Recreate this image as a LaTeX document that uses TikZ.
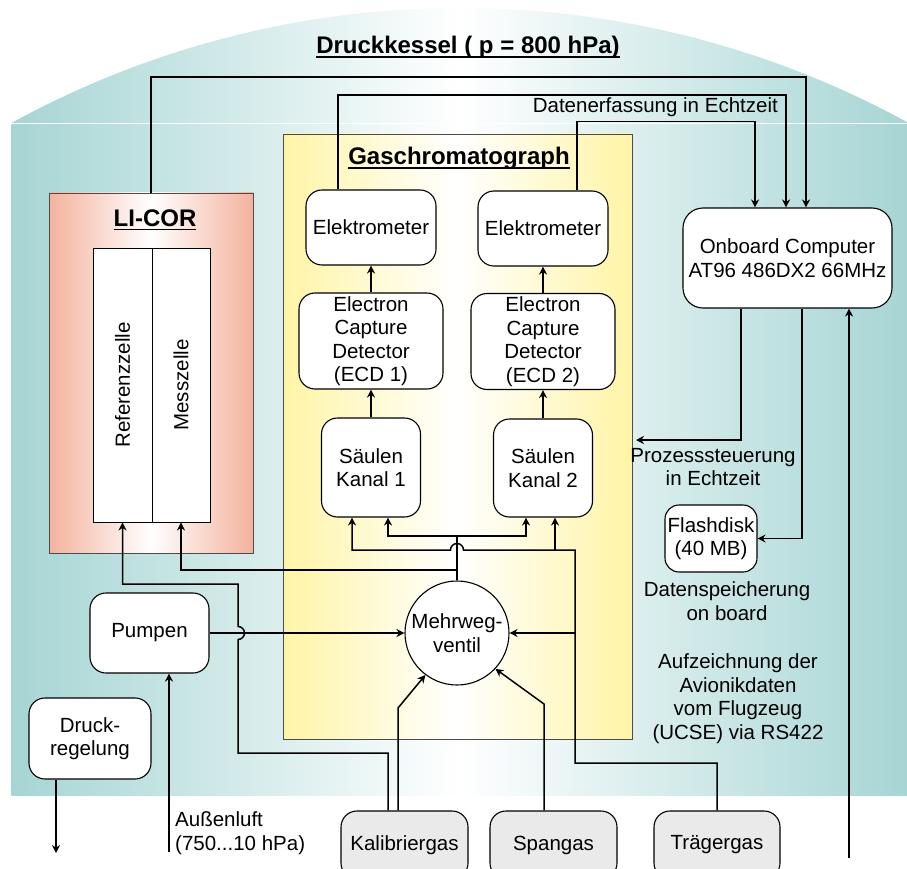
\documentclass[tikz,border=0pt]{standalone}
\usepackage{fontspec}
\setmainfont{Liberation Sans}
\usetikzlibrary{arrows.meta}

\definecolor{kessel}{RGB}{166,213,212}
\definecolor{licorrot}{RGB}{244,178,158}
\definecolor{gcgelb}{RGB}{255,244,166}
\definecolor{gasgrau}{RGB}{234,234,234}

\newcommand{\boxfont}{\fontsize{20.5}{23.5}\selectfont}
\newcommand{\titlefont}{\fontsize{24}{28}\selectfont\bfseries}
\newsavebox{\ulbox}
\newcommand{\unterstr}[1]{\sbox{\ulbox}{#1}\rlap{\usebox{\ulbox}}\rule[-4.3pt]{\wd\ulbox}{1.8pt}}

\begin{document}
\begin{tikzpicture}[x=1pt,y=1pt,
	box/.style={draw,line width=1.1pt,fill=white,rounded corners=16pt,align=center,font=\boxfont,inner sep=1pt},
	gasbox/.style={box,fill=gasgrau},
	cell/.style={draw,line width=0.9pt,fill=white,inner sep=0pt,font=\boxfont},
	licorbox/.style={draw=black!70,line width=0.9pt,left color=licorrot,right color=licorrot,middle color=white},
	gcbox/.style={draw=black!70,line width=0.9pt,left color=gcgelb,right color=gcgelb,middle color=white},
	lbl/.style={align=center,font=\boxfont,inner sep=0pt},
	title/.style={font=\titlefont,inner sep=0pt,anchor=base},
	conn/.style={line width=1.5pt},
	>={Stealth[length=8pt,width=8pt]}]
	\useasboundingbox (0,0) rectangle (907,-869);
	\clip (0,0) rectangle (907,-869);

	\shade[left color=kessel,right color=kessel,middle color=white] 
	   (11.5,-123) arc[start angle=118.77,end angle=61.23,radius=932.1] -- cycle;
	\shade[left color=kessel,right color=kessel,middle color=white] 
	   (11.5,-124.5) rectangle (908.5,-795);
	\node[title] (kesseltitle) at (468,-54) {\unterstr{Druckkessel ( p = 800 hPa)}};

	\node[licorbox,minimum width=204,minimum height=360] (licor) at (151,-373) {};
	\node[title] (licortitle) at (155,-226) {\unterstr{LI-COR}};
	\node[cell,minimum width=59,minimum height=274] (ref) at (122.5,-385) {\rotatebox{90}{Referenzzelle}};
	\node[cell,minimum width=58,minimum height=274] (mess) at (181,-385) {\rotatebox{90}{Messzelle}};

	\node[gcbox,minimum width=349,minimum height=605] (gc) at (457.5,-436.5) {};
	\node[title] (gctitle) at (459,-165) {\unterstr{Gaschromatograph}};
	\node[box,minimum width=130,minimum height=75] (elek1) at (371,-227.5) {Elektrometer};
	\node[box,minimum width=130,minimum height=75] (elek2) at (543,-228.5) {Elektrometer};
	\node[box,minimum width=144,minimum height=96] (ecd1) at (371,-341) {Electron\\Capture\\Detector\\(ECD 1)};
	\node[box,minimum width=144,minimum height=96] (ecd2) at (543,-341.5) {Electron\\Capture\\Detector\\(ECD 2)};
	\node[box,minimum width=99,minimum height=99] (kanal1) at (371,-467.5) {Säulen\\Kanal 1};
	\node[box,minimum width=99,minimum height=98] (kanal2) at (543,-468) {Säulen\\Kanal 2};
	\node[draw,circle,line width=1.1pt,fill=white,minimum size=104,inner sep=0pt,align=center,font=\boxfont] 
	   (ventil) at (457,-633) {Mehrweg-\\ventil};

	\node[box,minimum width=119,minimum height=80] (pumpen) at (149.5,-633) {Pumpen};
	\node[box,minimum width=122,minimum height=81] (druck) at (90,-738.5) {Druck-\\regelung};
	\node[box,minimum width=209,minimum height=100,rounded corners=20pt] (computer) at (787.5,-258) 
	   {Onboard Computer\\AT96 486DX2 66MHz};
	\node[box,minimum width=92,minimum height=67,rounded corners=14pt] (flash) at (711,-538.5) {Flashdisk\\(40 MB)};
	\node[gasbox,minimum width=127,minimum height=68] (kal) at (404.5,-845) {Kalibriergas};
	\node[gasbox,minimum width=127,minimum height=68] (span) at (553.5,-845) {Spangas};
	\node[gasbox,minimum width=126,minimum height=68] (trae) at (717,-845) {Trägergas};

	\node[lbl,anchor=east] (erfassung) at (778,-107) {Datenerfassung in Echtzeit};
	\node[lbl] (prozess) at (713,-467) {Prozesssteuerung\\in Echtzeit};
	\node[lbl] (speicher) at (727,-601) {Datenspeicherung\\on board};
	\node[lbl] (avionik) at (738,-698.5) {Aufzeichnung der\\Avionikdaten\\vom Flugzeug\\(UCSE) via RS422};
	\node[lbl,anchor=west,align=left] (luftlbl) at (175,-833) {Außenluft\\(750...10 hPa)};

	\coordinate (busA) at (0,-77);
	\coordinate (busB) at (0,-95);
	\coordinate (busC) at (0,-121.5);
	\draw[conn,->] (licor.north) -- (licor.north |- busA) -| ([xshift=18.5pt]computer.north);
	\draw[conn,->] ([xshift=-33pt]elek1.north) -- ([xshift=-33pt]elek1.north |- busB) 
	   -| ([xshift=-1.5pt]computer.north);
	\draw[conn,->] ([xshift=34pt]elek2.north) -- ([xshift=34pt]elek2.north |- busC) 
	   -| ([xshift=-32.5pt]computer.north);

	\draw[conn,->] (ecd1.north) -- (elek1.south);
	\draw[conn,->] (ecd2.north) -- (elek2.south);
	\draw[conn,->] (kanal1.north) -- (ecd1.south);
	\draw[conn,->] (kanal2.north) -- (ecd2.south);

	\coordinate (jA) at (ventil.north |- 0,-536);
	\draw[conn,->] (ventil.north) -- (jA) -| ([xshift=17pt]kanal1.south);
	\draw[conn,->] (jA) -| ([xshift=-17pt]kanal2.south);
	\draw[conn,->] (ventil.north |- 0,-570) -| (mess.south);

	\coordinate (tgEck) at (575,-763);
	\draw[conn,->] (trae.north) |- (tgEck) -- (575,-550) -- (463.5,-550) 
	   arc[start angle=0,end angle=180,radius=6.5] 
	   -- ([xshift=-19pt]kanal1.south |- 0,-550) -- ([xshift=-19pt]kanal1.south);
	\draw[conn,->] ([xshift=12pt]kanal2.south |- 0,-550) -- ([xshift=12pt]kanal2.south);
	\draw[conn,->] (tgEck |- ventil.east) -- (ventil.east);

	\draw[conn,->] ([xshift=-16.5pt]kal.north) |- (238,-753) -- (238,-639.5) 
	   arc[start angle=-90,end angle=90,radius=6.5] -- (238,-584) -| (ref.south);
	\draw[conn,->] ([xshift=-6.5pt]kal.north) -- ([xshift=-6.5pt]kal.north |- 0,-708) -- (ventil.-127);
	\draw[conn,->] ([xshift=-9.5pt]span.north) -- ([xshift=-9.5pt]span.north |- 0,-704) -- (ventil.-43);

	\draw[conn,->] (pumpen.east) -- (ventil.west);
	\coordinate (luft) at (169,-852);
	\draw[conn,->] (luft) -- (luft |- pumpen.south);
	\coordinate (druckaus) at (56,-853);
	\draw[conn,->] (druckaus |- druck.south) -- (druckaus);

	\coordinate (prozend) at (636,-440);
	\draw[conn,->] ([xshift=-46.5pt]computer.south) |- (prozend);
	\draw[conn,->] ([xshift=14.5pt]computer.south) |- (flash.east);
	\coordinate (avio) at (849,-858);
	\draw[conn,->] (avio) -- (avio |- computer.south);
\end{tikzpicture}
\end{document}
